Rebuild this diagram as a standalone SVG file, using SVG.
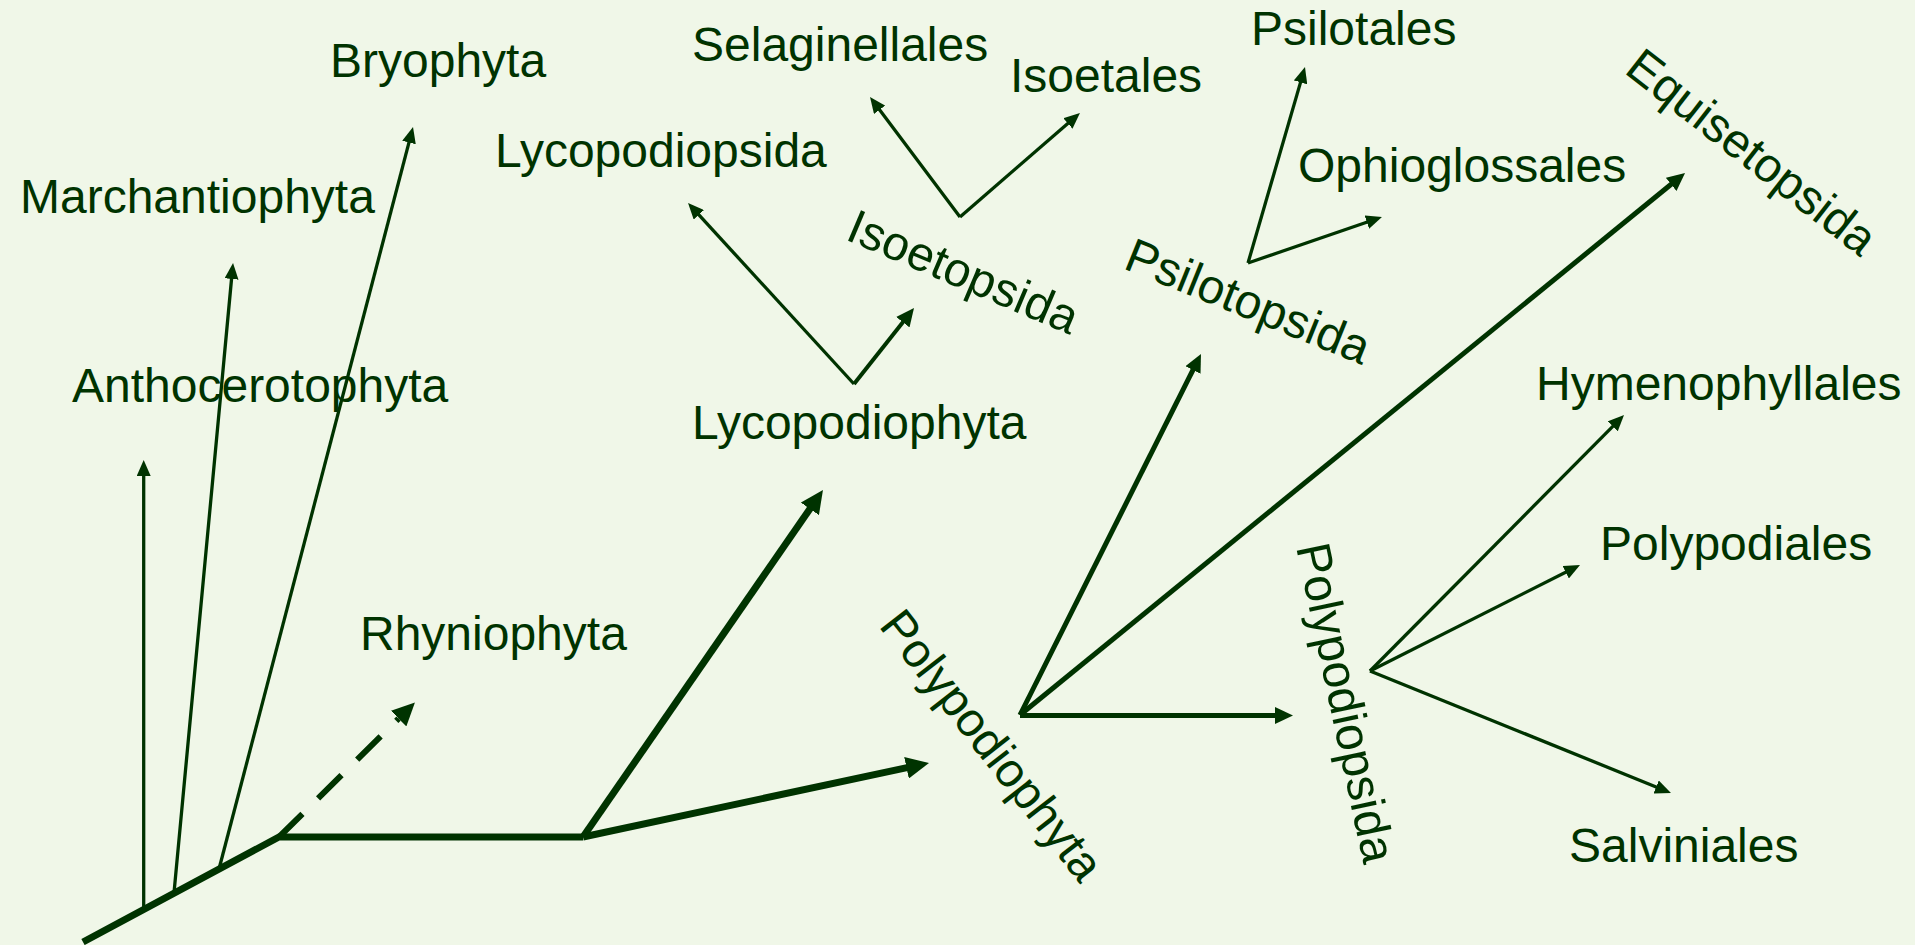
<svg xmlns="http://www.w3.org/2000/svg" width="1915" height="945" viewBox="0 0 1915 945">
<defs>
<style>
.lbl{font-family:"Liberation Sans",Arial,sans-serif;font-size:48px;fill:#003300}
.thin{fill:none;stroke:#003300;stroke-width:3.3}
.mid{fill:none;stroke:#003300;stroke-width:5}
.thick{fill:none;stroke:#003300;stroke-width:7;stroke-linejoin:miter}
.dash{fill:none;stroke:#003300;stroke-width:6;stroke-dasharray:33 22}
</style>
<marker id="aThin" markerUnits="userSpaceOnUse" markerWidth="16" markerHeight="14" refX="6" refY="7" orient="auto"><path d="M0,0 L16,7 L0,14 z" fill="#003300"/></marker>
<marker id="aMid" markerUnits="userSpaceOnUse" markerWidth="18" markerHeight="17" refX="8" refY="8.5" orient="auto"><path d="M0,0 L18,8.5 L0,17 z" fill="#003300"/></marker>
<marker id="aThick" markerUnits="userSpaceOnUse" markerWidth="23" markerHeight="22" refX="9" refY="11" orient="auto"><path d="M0,0 L23,11 L0,22 z" fill="#003300"/></marker>
<marker id="aThickBase" markerUnits="userSpaceOnUse" markerWidth="23" markerHeight="22" refX="0" refY="11" orient="auto"><path d="M0,0 L23,11 L0,22 z" fill="#003300"/></marker>
</defs>
<rect width="1915" height="945" fill="#F0F7E8"/>
<g id="connectors">
<polyline class="thick" points="83,942 279,837 583,837"/>
<line class="thin" x1="143.7" y1="909" x2="143.7" y2="470" marker-end="url(#aThin)"/>
<line class="thin" x1="174" y1="893" x2="232.1" y2="273" marker-end="url(#aThin)"/>
<line class="thin" x1="219" y1="869" x2="410.5" y2="136.7" marker-end="url(#aThin)"/>
<line class="dash" x1="279" y1="837" x2="398.6" y2="718.6" marker-end="url(#aThickBase)"/>
<line class="thick" x1="583" y1="837" x2="815" y2="501.5" marker-end="url(#aThick)"/>
<line class="thick" x1="583" y1="837" x2="915.3" y2="765.9" marker-end="url(#aThick)"/>
<line class="thin" x1="854" y1="384" x2="694.8" y2="210.4" marker-end="url(#aThin)"/>
<line class="mid" style="stroke-width:4" x1="854" y1="384" x2="907.8" y2="315.9" marker-end="url(#aMid)"/>
<line class="thin" x1="960" y1="217" x2="876" y2="105" marker-end="url(#aThin)"/>
<line class="thin" x1="960" y1="217" x2="1072.4" y2="119.5" marker-end="url(#aThin)"/>
<line class="mid" x1="1020" y1="715" x2="1196.5" y2="362.9" marker-end="url(#aMid)"/>
<line class="mid" x1="1020" y1="715" x2="1677.3" y2="179.3" marker-end="url(#aMid)"/>
<line class="mid" x1="1020" y1="715.5" x2="1283" y2="715.5" marker-end="url(#aMid)"/>
<line class="thin" x1="1248" y1="263" x2="1302.2" y2="76.6" marker-end="url(#aThin)"/>
<line class="thin" x1="1248" y1="263" x2="1372.5" y2="220.2" marker-end="url(#aThin)"/>
<line class="thin" x1="1370" y1="671" x2="1617" y2="422.1" marker-end="url(#aThin)"/>
<line class="thin" x1="1370" y1="671" x2="1571.1" y2="569.5" marker-end="url(#aThin)"/>
<line class="thin" x1="1370" y1="671" x2="1661.7" y2="789.2" marker-end="url(#aThin)"/>
</g>
<g id="n-bryophyta"><text class="lbl" x="330" y="77">Bryophyta</text></g>
<g id="n-marchantiophyta"><text class="lbl" x="20" y="213">Marchantiophyta</text></g>
<g id="n-anthocerotophyta"><text class="lbl" x="72" y="402">Anthocerotophyta</text></g>
<g id="n-rhyniophyta"><text class="lbl" x="360" y="650">Rhyniophyta</text></g>
<g id="n-lycopodiopsida"><text class="lbl" x="495" y="167">Lycopodiopsida</text></g>
<g id="n-selaginellales"><text class="lbl" x="692" y="61">Selaginellales</text></g>
<g id="n-isoetales"><text class="lbl" x="1010" y="92">Isoetales</text></g>
<g id="n-lycopodiophyta"><text class="lbl" x="692" y="439">Lycopodiophyta</text></g>
<g id="n-isoetopsida"><text class="lbl" transform="translate(844,239) rotate(23)">Isoetopsida</text></g>
<g id="n-psilotales"><text class="lbl" x="1251" y="45">Psilotales</text></g>
<g id="n-ophioglossales"><text class="lbl" x="1298" y="182">Ophioglossales</text></g>
<g id="n-psilotopsida"><text class="lbl" transform="translate(1122,268) rotate(22)">Psilotopsida</text></g>
<g id="n-equisetopsida"><text class="lbl" transform="translate(1623,72) rotate(38)">Equisetopsida</text></g>
<g id="n-polypodiophyta"><text class="lbl" transform="translate(878,626) rotate(52)">Polypodiophyta</text></g>
<g id="n-polypodiopsida"><text class="lbl" transform="translate(1296,547) rotate(78)">Polypodiopsida</text></g>
<g id="n-hymenophyllales"><text class="lbl" x="1536" y="400">Hymenophyllales</text></g>
<g id="n-polypodiales"><text class="lbl" x="1600" y="560">Polypodiales</text></g>
<g id="n-salviniales"><text class="lbl" x="1569" y="862">Salviniales</text></g>
</svg>
